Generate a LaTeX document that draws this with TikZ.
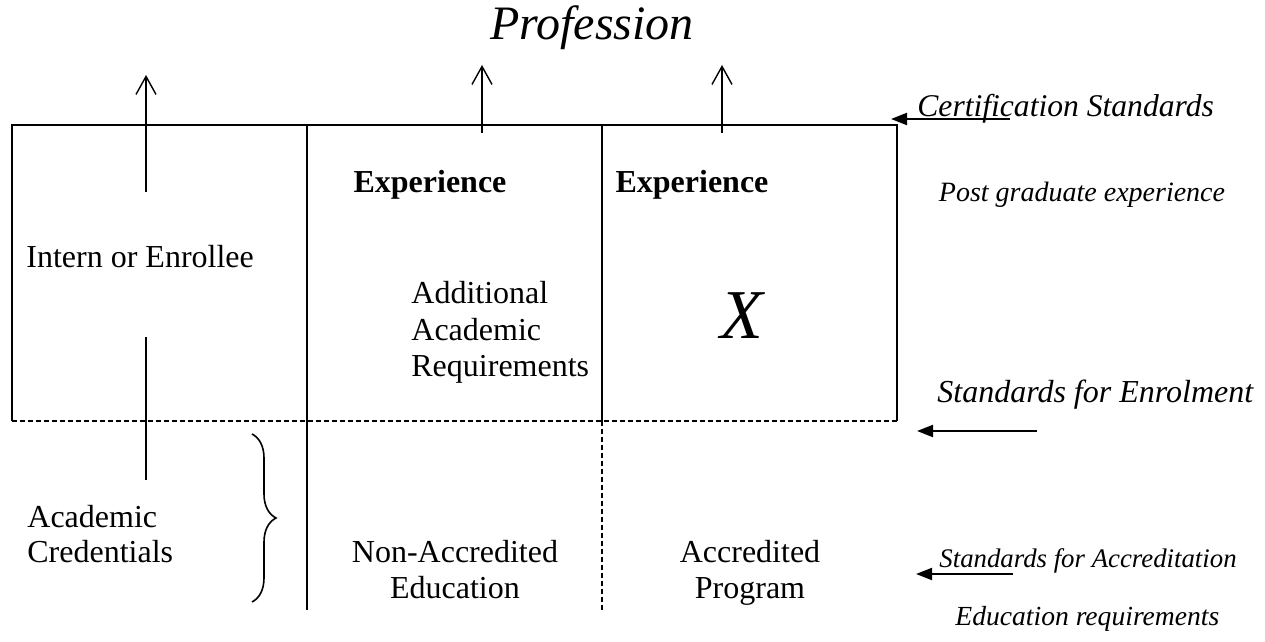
\documentclass[tikz,border=0pt]{standalone}
\usepackage{fontspec}
\setmainfont{Liberation Serif}
\usetikzlibrary{arrows.meta,positioning,decorations.pathreplacing}

\begin{document}
\begin{tikzpicture}[x=0.5pt,y=-0.5pt,
  frame/.style={line width=1pt},
  dotline/.style={line width=1pt,dash pattern=on 2.5pt off 1.5pt},
  txt/.style={inner sep=0pt,align=left,font=\fontsize{16}{18}\selectfont},
  ctxt/.style={txt,align=center},
  note/.style={inner sep=0pt,font=\itshape\fontsize{16}{18}\selectfont},
  upto/.style={-{Straight Barb[length=9pt,width=10pt]},line width=0.7pt},
  pointer/.style={-{Triangle[length=8pt,width=6pt]},line width=1pt}]

\useasboundingbox (0,0) rectangle (1265,642);

\node [inner sep=0pt,anchor=base,font=\itshape\fontsize{24}{28}\selectfont] (prof) at (592,40) {Profession};

% frame
\coordinate (tl) at (12,125);
\coordinate (tr) at (897,125);
\coordinate (bl) at (12,421);
\coordinate (br) at (897,421);
\draw [frame] (bl) -- (tl) -- (tr) -- (br);
\draw [dotline] (bl) -- (br);
\draw [frame] (307,125) coordinate (c1t) -- (307,610) coordinate (c1b);
\draw [frame] (602,125) coordinate (c2t) -- (602,421) coordinate (c2m);
\draw [dotline,line width=0.8pt] (c2m) -- (602,610) coordinate (c2b);
\draw [frame] (146,337) coordinate (s1) -- (146,480) coordinate (s2);

% arrows to the profession
\def\ups{1/{146,192}/{146,75},2/{482,133}/{482,65},3/{722,133}/{722,65}}
\foreach \i / \from / \to in \ups
  \draw [upto] (\from) coordinate (u\i) -- (\to) coordinate (v\i);

% cells
\node [txt,anchor=base west] (intern) at (26,267) {Intern or Enrollee};
\node [inner sep=0pt,anchor=base,font=\bfseries\fontsize{16}{18}\selectfont] (exp1) at (430,192) {Experience};
\node [inner sep=0pt,anchor=base,font=\bfseries\fontsize{16}{18}\selectfont] (exp2) at (692,192) {Experience};
\node [txt,anchor=north west,font=\fontsize{16}{18.25}\selectfont] (addreq) at (411,281) {Additional\\Academic\\Requirements};
\node [inner sep=0pt,anchor=base,font=\itshape\fontsize{35}{40}\selectfont] (xmark) at (742,338) {X};
\node [txt,anchor=north west,font=\fontsize{16}{17.5}\selectfont] (acad) at (27,505) {Academic\\Credentials};
\node [ctxt,anchor=north] (nonacc) at (455,540) {Non-Accredited\\Education};
\node [ctxt,anchor=north] (accprog) at (750,540) {Accredited\\Program};

\draw [line width=0.8pt,decorate,decoration={brace,amplitude=12pt}] (252,434) coordinate (b1) -- (252,602) coordinate (b2);

% standards
\node [note,anchor=base west,font=\itshape\fontsize{15.8}{18}\selectfont] (cert) at (917,117) {Certification Standards};
\node [note,font=\itshape\fontsize{14}{16}\selectfont] (postgrad) at (1082,195) {Post graduate experience};
\node [note,anchor=base west] (enrol) at (937,402) {Standards for Enrolment};
\node [note,anchor=base west,font=\itshape\fontsize{13.4}{15}\selectfont] (accred) at (939,567) {Standards for Accreditation};
\node [note,anchor=base west,font=\itshape\fontsize{13.8}{15}\selectfont] (edreq) at (955,625) {Education requirements};

\draw [pointer] (1010,119) coordinate (p1) -- (891,119) coordinate (q1);
\draw [pointer] (1037,431) coordinate (p2) -- (917,431) coordinate (q2);
\draw [pointer] (1013,574) coordinate (p3) -- (916,574) coordinate (q3);

\end{tikzpicture}
\end{document}
